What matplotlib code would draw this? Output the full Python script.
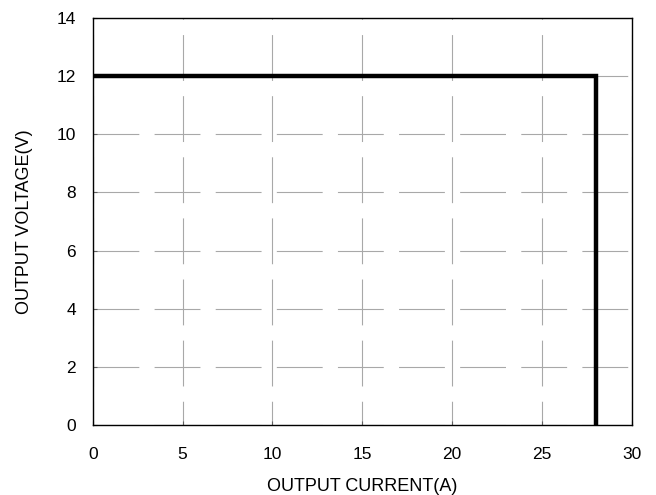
import matplotlib.pyplot as plt

plt.rcParams['font.family'] = ['Liberation Sans', 'DejaVu Sans']
plt.rcParams['lines.scale_dashes'] = False

# output characteristic (constant voltage, then current limit)
current = [0, 28, 28]
voltage = [12, 12, 0]

x_ticks = [0, 5, 10, 15, 20, 25, 30]
y_ticks = [0, 2, 4, 6, 8, 10, 12, 14]

fig = plt.figure(figsize=(6.56, 4.95), dpi=100)
ax = fig.add_axes([0.1413, 0.1414, 0.822, 0.8222])

ax.plot(current, voltage, color='black', linewidth=3.2, solid_joinstyle='miter', zorder=3)

ax.set_xlim(0, 30)
ax.set_ylim(0, 14)
ax.set_xticks(x_ticks)
ax.set_yticks(y_ticks)

# dashed grid: horizontal dashes start at left, vertical ones at the top
ax.yaxis.grid(True, color='#a8a8a8', linewidth=0.8, linestyle=(0, (33, 11)))
ax.xaxis.grid(True, color='#a8a8a8', linewidth=0.8, linestyle=(15.9, (33, 11)))

ax.tick_params(direction='in', length=3, color='#606060', labelsize=12.5)
ax.tick_params(axis='x', pad=15.5)
ax.tick_params(axis='y', pad=12)

for s in ax.spines.values():
    s.set_linewidth(1)
    s.set_color('black')

ax.set_xlabel('OUTPUT CURRENT(A)', fontsize=13, labelpad=11.5)
ax.set_ylabel('OUTPUT VOLTAGE(V)', fontsize=13, labelpad=17)

fig.savefig('out.png', dpi=100)
